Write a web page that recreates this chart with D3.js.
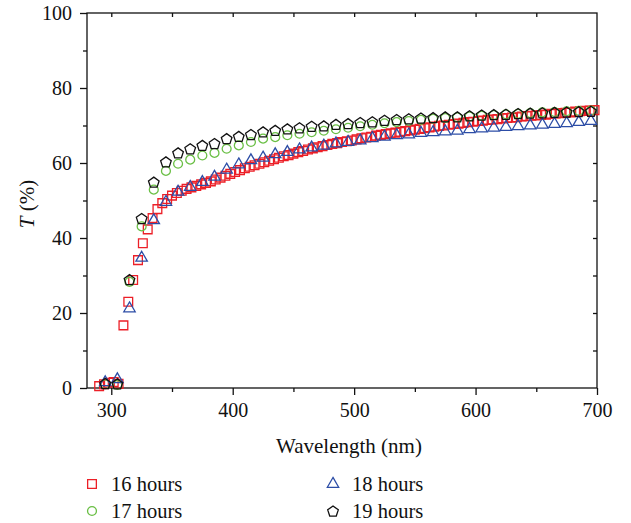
<!DOCTYPE html>
<html>
<head>
<meta charset="utf-8">
<script src="https://cdn.jsdelivr.net/npm/d3@7/dist/d3.min.js"></script>
<style>
  html, body { margin: 0; padding: 0; background: #fff; }
  svg { display: block; }
  svg text { font-family: "Liberation Serif", "Times New Roman", Tinos, "DejaVu Serif", serif !important; }
  .axis text { font-size: 20px; fill: #111; }
  .axis path, .axis line { stroke: #111; stroke-width: 1.3; }
</style>
</head>
<body>
<svg id="chart" width="631" height="523"></svg>
<script>
// Transmittance spectra for four growth times
const wl16 = [290,294,298,302,306,310,314,318,322,326,330,334,338,342,346,350,354,358,362,366,
  370,374,378,382,386,390,394,398,402,406,410,414,418,422,426,430,434,438,442,446,
  450,454,458,462,466,470,474,478,482,486,490,494,498,502,506,510,514,518,522,526,
  530,534,538,542,546,550,554,558,562,566,570,574,578,582,586,590,594,598,602,606,
  610,614,618,622,626,630,634,638,642,646,650,654,658,662,666,670,674,678,682,686,
  690,694,698];
const t16 = [0.5,1.0,1.4,1.6,1.1,16.7,23.0,28.8,34.1,38.6,42.3,45.3,47.7,49.3,50.4,51.3,52.0,52.6,53.1,53.5,
  53.9,54.3,54.7,55.1,55.6,56.1,56.6,57.1,57.6,58.1,58.6,59.0,59.4,59.8,60.2,60.6,61.0,61.4,61.8,62.1,
  62.5,62.9,63.2,63.6,63.9,64.2,64.5,64.8,65.1,65.3,65.6,65.8,66.0,66.3,66.6,66.8,67.0,67.3,67.5,67.7,
  67.9,68.1,68.3,68.5,68.7,68.9,69.1,69.3,69.5,69.7,69.9,70.0,70.2,70.4,70.5,70.7,70.9,71.0,71.2,71.3,
  71.5,71.6,71.7,71.9,72.0,72.1,72.2,72.4,72.5,72.6,72.7,72.8,72.9,73.1,73.2,73.3,73.4,73.5,73.7,73.8,
  73.9,74.0,74.1];

const wl10 = [295,305,315,325,335,345,355,365,375,385,395,405,415,425,435,445,455,465,475,485,
  495,505,515,525,535,545,555,565,575,585,595,605,615,625,635,645,655,665,675,685,695];
const t17 = [1.0,0.8,28.3,43.1,52.9,57.9,59.8,60.9,62.0,62.7,63.8,64.7,65.6,66.5,66.9,67.4,67.8,68.2,68.6,69.0,
  69.4,69.8,70.2,70.6,70.9,71.2,71.5,71.8,72.0,72.2,72.4,72.6,72.8,73.0,73.1,73.3,73.5,73.6,73.8,73.9,74.0];
const t18 = [1.5,2.3,21.2,34.7,44.7,49.6,52.3,53.6,54.9,56.3,58.2,59.6,60.7,61.4,62.3,62.9,63.6,64.1,64.6,65.2,
  65.6,66.0,66.6,67.0,67.4,67.6,68.0,68.2,68.4,68.6,69.0,69.2,69.4,69.6,69.8,70.0,70.2,70.4,70.6,70.9,71.2];
const t19 = [1.2,1.1,28.9,45.2,54.9,60.3,62.7,63.8,64.7,65.2,66.5,67.1,67.6,68.3,68.7,69.1,69.4,69.8,69.9,70.3,
  70.5,70.8,71.0,71.4,71.6,71.8,72.0,72.1,72.3,72.3,72.6,72.8,72.9,73.0,73.2,73.3,73.4,73.5,73.6,73.7,73.8];

const seriesNames = ["16 hours", "17 hours", "18 hours", "19 hours"];
const seriesColors = ["#ec1f27", "#6abf45", "#2c4da6", "#111111"];

const xMajor = [300, 400, 500, 600, 700];
const xMinor = [350, 450, 550, 650];
const yMajor = [0, 20, 40, 60, 80, 100];
const yMinor = [10, 30, 50, 70, 90];

const svg = d3.select("#chart");
const L = 87, R = 597, T = 13, B = 388;

const x = d3.scaleLinear().domain([280, 700]).range([L, R]);
const y = d3.scaleLinear().domain([0, 100]).range([B, T]);

// Marker shapes
const pentagon = {
  draw(ctx, size) {
    const r = Math.sqrt(size / 2.378);
    for (let i = 0; i < 5; i++) {
      const a = -Math.PI / 2 + i * 2 * Math.PI / 5;
      const px = r * Math.cos(a), py = r * Math.sin(a) + r * 0.1;
      if (i === 0) ctx.moveTo(px, py); else ctx.lineTo(px, py);
    }
    ctx.closePath();
  }
};
const shapes = [
  d3.symbol(d3.symbolSquare, 76),
  d3.symbol(d3.symbolCircle, 62),
  d3.symbol(d3.symbolTriangle, 56),
  d3.symbol(pentagon, 74)
];

const series = [
  { xs: wl16, ys: t16 },
  { xs: wl10, ys: t17 },
  { xs: wl10, ys: t18 },
  { xs: wl10, ys: t19 }
];

// Axes: major and minor ticks outside on left/bottom, short inner ticks on top/right
const gx = svg.append("g").attr("class", "axis").attr("transform", `translate(0,${B})`)
  .call(d3.axisBottom(x).tickValues(xMajor).tickSize(7).tickPadding(8).tickFormat(d3.format("d")));
gx.select(".domain").remove();
svg.append("g").attr("class", "axis").attr("transform", `translate(0,${B})`)
  .call(d3.axisBottom(x).tickValues(xMinor).tickSize(4).tickFormat(""))
  .select(".domain").remove();

const gy = svg.append("g").attr("class", "axis").attr("transform", `translate(${L},0)`)
  .call(d3.axisLeft(y).tickValues(yMajor).tickSize(7).tickPadding(8).tickFormat(d3.format("d")));
gy.select(".domain").remove();
svg.append("g").attr("class", "axis").attr("transform", `translate(${L},0)`)
  .call(d3.axisLeft(y).tickValues(yMinor).tickSize(4).tickFormat(""))
  .select(".domain").remove();

svg.append("g").attr("class", "axis").attr("transform", `translate(0,${T})`)
  .call(d3.axisTop(x).tickValues([300,350,400,450,500,550,600,650]).tickSize(-4).tickFormat(""))
  .select(".domain").remove();
svg.append("g").attr("class", "axis").attr("transform", `translate(${R},0)`)
  .call(d3.axisRight(y).tickValues([10,20,30,40,50,60,70,80,90]).tickSize(-4).tickFormat(""))
  .select(".domain").remove();

svg.append("rect").attr("x", L).attr("y", T).attr("width", R - L).attr("height", B - T)
  .attr("fill", "none").attr("stroke", "#111").attr("stroke-width", 1.3);

// Data markers
series.forEach((s, i) => {
  svg.append("g").selectAll("path").data(s.xs.map((v, j) => [v, s.ys[j]])).join("path")
    .attr("d", shapes[i])
    .attr("transform", d => `translate(${x(d[0])},${y(d[1])})`)
    .attr("fill", "none")
    .attr("stroke", seriesColors[i])
    .attr("stroke-width", 1.3);
});

// Axis titles
svg.append("text").attr("x", 349).attr("y", 453).attr("text-anchor", "middle")
  .attr("font-size", 21).attr("fill", "#111").text("Wavelength (nm)");
const yt = svg.append("text").attr("transform", "translate(34,204) rotate(-90)")
  .attr("text-anchor", "middle").attr("font-size", 21).attr("fill", "#111");
yt.append("tspan").attr("font-style", "italic").text("T");
yt.append("tspan").text(" (%)");

// Legend
const legendPos = [[92, 484], [92, 511], [333, 484], [333, 511]];
seriesNames.forEach((name, i) => {
  const [lx, ly] = legendPos[i];
  svg.append("path").attr("d", shapes[i]).attr("transform", `translate(${lx},${ly})`)
    .attr("fill", "none").attr("stroke", seriesColors[i]).attr("stroke-width", 1.3);
  svg.append("text").attr("x", lx + 19).attr("y", ly + 7).attr("font-size", 20.5)
    .attr("fill", "#111").text(name);
});
</script>
</body>
</html>
